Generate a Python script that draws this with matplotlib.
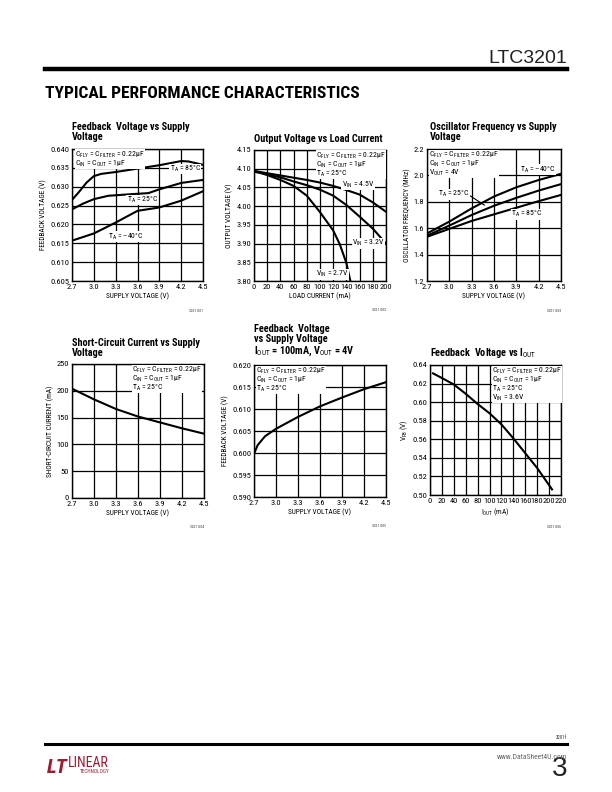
import matplotlib
matplotlib.use("Agg")
from matplotlib import pyplot as plt
from matplotlib import font_manager

# look for a condensed face, the datasheet uses Helvetica Condensed
names = sorted({f.name for f in font_manager.fontManager.ttflist})
NARROW = None
for cand in ['Liberation Sans Narrow', 'DejaVu Sans Condensed', 'Roboto Condensed',
             'Open Sans Condensed', 'Noto Sans Condensed']:
    if cand in names:
        NARROW = cand
        break
if NARROW is None:
    for n in names:
        if 'Condensed' in n or 'Narrow' in n:
            NARROW = n
            break
STRETCH = 'normal'
SCALE = 1.0
if NARROW is None:
    cond = [f for f in font_manager.fontManager.ttflist
            if f.name == 'DejaVu Sans' and f.stretch in ('condensed', 'semi-condensed')]
    if cond:
        NARROW = 'DejaVu Sans'
        STRETCH = 'condensed'
    else:
        NARROW = 'Liberation Sans'
        SCALE = 0.86

plt.rcParams['font.family'] = [NARROW, 'DejaVu Sans']
plt.rcParams['font.stretch'] = STRETCH
plt.rcParams['mathtext.fontset'] = 'custom'
plt.rcParams['mathtext.rm'] = NARROW
plt.rcParams['mathtext.it'] = NARROW
plt.rcParams['mathtext.bf'] = NARROW + ':bold'

# ---- data ----
# 1: feedback voltage vs supply voltage
fb_vs = [2.7, 2.8, 2.9, 3.0, 3.1, 3.3, 3.6, 3.9, 4.2, 4.3, 4.5]
fb_85 = [0.6265, 0.6287, 0.6311, 0.6328, 0.6334, 0.6339, 0.6348, 0.6357, 0.6368, 0.6367, 0.6358]
fb_vs25 = [2.7, 2.85, 3.0, 3.2, 3.5, 3.75, 3.9, 4.2, 4.5]
fb_25 = [0.6240, 0.6255, 0.6267, 0.6276, 0.6280, 0.6283, 0.6293, 0.6310, 0.6318]
fb_vsm40 = [2.7, 3.0, 3.3, 3.6, 3.9, 4.2, 4.5]
fb_m40 = [0.6157, 0.6176, 0.6205, 0.6236, 0.6245, 0.6263, 0.6288]

# 2: output voltage vs load current
iload = [0, 20, 40, 60, 80, 100, 120, 140, 160, 180, 200]
vout_45 = [4.094, 4.088, 4.082, 4.076, 4.070, 4.063, 4.054, 4.043, 4.031, 4.010, 3.985]
vout_32 = [4.092, 4.085, 4.077, 4.066, 4.056, 4.044, 4.028, 4.003, 3.972, 3.940, 3.900]
iload_27 = [0, 20, 40, 60, 80, 100, 120, 130, 140, 146]
vout_27 = [4.095, 4.083, 4.070, 4.054, 4.028, 3.984, 3.935, 3.898, 3.848, 3.800]

# 3: oscillator frequency vs supply voltage
osc_vs = [2.7, 3.0, 3.3, 3.6, 3.9, 4.2, 4.5]
osc_m40 = [1.56, 1.65, 1.75, 1.84, 1.91, 1.965, 2.012]
osc_25 = [1.543, 1.62, 1.70, 1.77, 1.83, 1.885, 1.934]
osc_85 = [1.535, 1.595, 1.655, 1.705, 1.755, 1.805, 1.852]

# 4: short-circuit current vs supply voltage
sc_vs = [2.7, 3.0, 3.3, 3.6, 3.9, 4.2, 4.5]
sc_ma = [204, 184, 166, 152, 141, 130, 120]

# 5: feedback voltage vs supply voltage at 100mA
fb2_vs = [2.7, 2.75, 2.85, 3.0, 3.3, 3.6, 3.9, 4.2, 4.5]
fb2_v = [0.5998, 0.6018, 0.6038, 0.6055, 0.6082, 0.6106, 0.6126, 0.6145, 0.6161]

# 6: feedback voltage vs Iout
vfb_i = [5, 20, 40, 60, 80, 100, 120, 140, 160, 180, 205]
vfb_v = [0.631, 0.626, 0.619, 0.609, 0.598, 0.588, 0.576, 0.561, 0.545, 0.529, 0.506]

VS_TICKS = [2.7, 3.0, 3.3, 3.6, 3.9, 4.2, 4.5]
VS_LABELS = ['2.7', '3.0', '3.3', '3.6', '3.9', '4.2', '4.5']

W, H = 612, 792
fig = plt.figure(figsize=(W / 100, H / 100), dpi=100)

TICK = 6.0 * SCALE
LAB = 5.2 * SCALE
TTL = 7.4 * SCALE
NOTE = 5.6 * SCALE


def px_axes(l, t, r, b):
    return fig.add_axes([l / W, 1 - b / H, (r - l) / W, (b - t) / H])


def style(ax, xt, xl, yt, yl, xlabel, ylabel):
    ax.set_xticks(xt)
    ax.set_xticklabels(xl, fontsize=TICK)
    ax.set_yticks(yt)
    ax.set_yticklabels(yl, fontsize=TICK)
    ax.set_xlim(xt[0], xt[-1])
    ax.set_ylim(yt[0], yt[-1])
    ax.tick_params(length=0, pad=2)
    ax.grid(True, color='black', linewidth=0.9)
    ax.set_axisbelow(True)
    for s in ax.spines.values():
        s.set_linewidth(1.0)
    ax.set_xlabel(xlabel, fontsize=LAB, labelpad=2)
    ax.set_ylabel(ylabel, fontsize=LAB, labelpad=2)


def note(ax, x, y, s, ha='left', va='center', ls=0.82):
    ax.text(x, y, s, fontsize=NOTE, ha=ha, va=va, linespacing=ls, zorder=5,
            bbox=dict(facecolor='white', edgecolor='none', pad=0.2))


def title(x, y, s):
    fig.text(x / W, 1 - y / H, s, fontsize=TTL, fontweight='bold', ha='left',
             va='bottom', linespacing=1.0)


def code(x, y, s):
    fig.text(x / W, 1 - y / H, s, fontsize=2.6, ha='right', color='#333333')


CFLY = r'C$_{FLY}$ = C$_{FILTER}$ = 0.22µF'
CIN = r'C$_{IN}$ = C$_{OUT}$ = 1µF'
TA25 = r'T$_A$ = 25°C'
LW = 1.5

# ---- chart 1 ----
ax = px_axes(72, 149, 203, 281)
style(ax, VS_TICKS, VS_LABELS,
      [0.605, 0.610, 0.615, 0.620, 0.625, 0.630, 0.635, 0.640],
      ['0.605', '0.610', '0.615', '0.620', '0.625', '0.630', '0.635', '0.640'],
      'SUPPLY VOLTAGE (V)', 'FEEDBACK VOLTAGE (V)')
ax.plot(fb_vs, fb_85, color='black', lw=LW)
ax.plot(fb_vs25, fb_25, color='black', lw=LW)
ax.plot(fb_vsm40, fb_m40, color='black', lw=LW)
note(ax, 2.74, 0.6398, CFLY + '\n' + CIN, va='top')
note(ax, 4.04, 0.6347, r'T$_A$ = 85°C')
note(ax, 3.45, 0.6265, r'T$_A$ = 25°C')
note(ax, 3.2, 0.6168, r'T$_A$ = –40°C')
title(72, 142, 'Feedback  Voltage vs Supply\nVoltage')
code(203, 312, '3201 G01')

# ---- chart 2 ----
ax = px_axes(254, 150, 386, 281)
style(ax, list(range(0, 201, 20)), [str(v) for v in range(0, 201, 20)],
      [3.80, 3.85, 3.90, 3.95, 4.00, 4.05, 4.10, 4.15],
      ['3.80', '3.85', '3.90', '3.95', '4.00', '4.05', '4.10', '4.15'],
      'LOAD CURRENT (mA)', 'OUTPUT VOLTAGE (V)')
ax.plot(iload, vout_45, color='black', lw=LW)
ax.plot(iload, vout_32, color='black', lw=LW)
ax.plot(iload_27, vout_27, color='black', lw=LW)
note(ax, 94, 4.148, CFLY + '\n' + CIN + '\n' + TA25, va='top')
note(ax, 133, 4.058, r'V$_{IN}$ = 4.5V')
note(ax, 149, 3.901, r'V$_{IN}$ = 3.2V')
note(ax, 94, 3.818, r'V$_{IN}$ = 2.7V')
title(254, 144, 'Output Voltage vs Load Current')
code(386, 311, '3201 G02')

# ---- chart 3 ----
ax = px_axes(427, 149, 561, 281)
style(ax, VS_TICKS, VS_LABELS,
      [1.2, 1.4, 1.6, 1.8, 2.0, 2.2], ['1.2', '1.4', '1.6', '1.8', '2.0', '2.2'],
      'SUPPLY VOLTAGE (V)', 'OSCILLATOR FREQUENCY (MHz)')
ax.plot(osc_vs, osc_m40, color='black', lw=LW)
ax.plot(osc_vs, osc_25, color='black', lw=LW)
ax.plot(osc_vs, osc_85, color='black', lw=LW)
note(ax, 2.73, 2.193, CFLY + '\n' + CIN + '\n' + r'V$_{OUT}$ = 4V', va='top')
note(ax, 3.95, 2.045, r'T$_A$ = –40°C')
note(ax, 2.85, 1.857, r'T$_A$ = 25°C')
ax.plot([3.28, 3.47], [1.845, 1.775], color='black', lw=0.8)
note(ax, 3.83, 1.705, r'T$_A$ = 85°C')
title(430, 142, 'Oscillator Frequency vs Supply\nVoltage')
code(561, 312, '3201 G03')

# ---- chart 4 ----
ax = px_axes(72, 364, 204, 498)
style(ax, VS_TICKS, VS_LABELS,
      [0, 50, 100, 150, 200, 250], ['0', '50', '100', '150', '200', '250'],
      'SUPPLY VOLTAGE (V)', 'SHORT-CIRCUIT CURRENT (mA)')
ax.plot(sc_vs, sc_ma, color='black', lw=LW)
note(ax, 3.52, 248, CFLY + '\n' + CIN + '\n' + TA25, va='top')
title(72, 358, 'Short-Circuit Current vs Supply\nVoltage')
code(204, 528, '3201 G04')

# ---- chart 5 ----
ax = px_axes(254, 365, 386, 497)
style(ax, VS_TICKS, VS_LABELS,
      [0.590, 0.595, 0.600, 0.605, 0.610, 0.615, 0.620],
      ['0.590', '0.595', '0.600', '0.605', '0.610', '0.615', '0.620'],
      'SUPPLY VOLTAGE (V)', 'FEEDBACK VOLTAGE (V)')
ax.plot(fb2_vs, fb2_v, color='black', lw=LW)
note(ax, 2.73, 0.6198, CFLY + '\n' + CIN + '\n' + TA25, va='top')
title(254, 358, 'Feedback  Voltage\nvs Supply Voltage\n' +
      r'I$_{OUT}$ = 100mA, V$_{OUT}$ = 4V')
code(386, 527, '3201 G05')

# ---- chart 6 ----
ax = px_axes(430, 365, 561, 495)
style(ax, list(range(0, 221, 20)), [str(v) for v in range(0, 221, 20)],
      [0.50, 0.52, 0.54, 0.56, 0.58, 0.60, 0.62, 0.64],
      ['0.50', '0.52', '0.54', '0.56', '0.58', '0.60', '0.62', '0.64'],
      r'I$_{OUT}$ (mA)', r'V$_{FB}$ (V)')
ax.plot(vfb_i, vfb_v, color='black', lw=LW)
note(ax, 104, 0.6388, CFLY + '\n' + CIN + '\n' + TA25 + '\n' + r'V$_{IN}$ = 3.6V',
     va='top')
title(430, 360, r'Feedback  Voltage vs I$_{OUT}$')
code(561, 528, '3201 G06')

# ---- page furniture ----
fig.text(567 / W, 1 - 63 / H, 'LTC3201', fontsize=14, ha='right', va='baseline',
         color='#222222', family='Liberation Sans', fontweight='light',
         fontstretch='normal')
fig.add_artist(plt.Line2D([45 / W, 567 / W], [1 - 69 / H] * 2, color='black', lw=3.2))
fig.text(45 / W, 1 - 98 / H, 'TYPICAL PERFORMANCE CHARACTERISTICS', fontsize=12.5 * SCALE,
         fontweight='bold', ha='left', va='baseline', color='black')
fig.add_artist(plt.Line2D([45 / W, 567 / W], [1 - 744 / H] * 2, color='black', lw=2.2))
fig.text(567 / W, 1 - 739 / H, '3201f', fontsize=3.5, ha='right', color='#333333')
fig.text(47 / W, 1 - 773 / H, 'LT', fontsize=15, fontweight='bold', style='italic',
         color='#9b1b30', ha='left', va='baseline')
fig.text(68 / W, 1 - 767 / H, 'LINEAR', fontsize=10, color='#9b1b30', ha='left',
         va='baseline')
fig.text(80 / W, 1 - 773 / H, 'TECHNOLOGY', fontsize=3.8, color='#9b1b30', ha='left',
         va='baseline')
fig.text(567 / W, 1 - 776 / H, '3', fontsize=20, ha='right', va='baseline',
         color='#222222', family='Liberation Sans', fontstretch='normal')
fig.text(567 / W, 1 - 759 / H, 'www.DataSheet4U.com', fontsize=5.5, ha='right',
         va='baseline', color='#666666')

fig.savefig('out.png', dpi=100)
